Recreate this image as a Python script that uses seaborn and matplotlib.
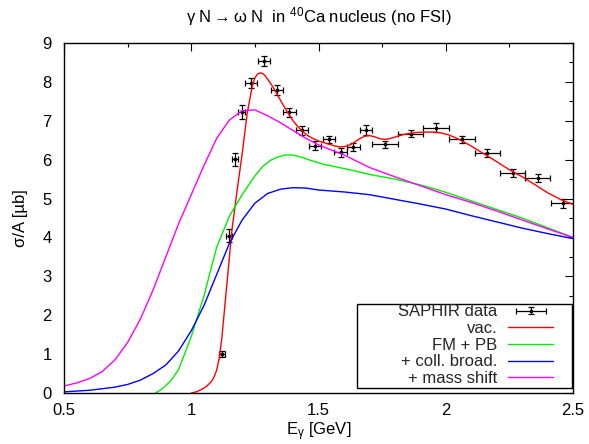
import numpy as np
import pandas as pd
import matplotlib
matplotlib.use("Agg")
import matplotlib.pyplot as plt
import seaborn as sns
from matplotlib.ticker import MultipleLocator, FormatStrFormatter
from matplotlib.legend_handler import HandlerErrorbar
from matplotlib.container import ErrorbarContainer
from matplotlib.patches import Rectangle

# ---------------- data ----------------
data_x = [1.122, 1.148, 1.173, 1.198, 1.235, 1.286, 1.337, 1.385, 1.435, 1.486, 1.541,
          1.587, 1.637, 1.687, 1.761, 1.862, 1.962, 2.063, 2.163, 2.263, 2.361, 2.462]
data_y = [1.00, 4.04, 6.01, 7.23, 7.98, 8.53, 7.79, 7.22, 6.75, 6.36, 6.52,
          6.19, 6.33, 6.76, 6.39, 6.67, 6.82, 6.52, 6.18, 5.66, 5.53, 4.88]
data_xerr = [0.0125, 0.0125, 0.0125, 0.0125, 0.025, 0.025, 0.025, 0.025, 0.025, 0.025, 0.025,
             0.025, 0.025, 0.025, 0.05, 0.05, 0.05, 0.05, 0.05, 0.05, 0.05, 0.05]
data_yerr = [0.08, 0.17, 0.17, 0.18, 0.13, 0.13, 0.12, 0.12, 0.11, 0.11, 0.10,
             0.11, 0.10, 0.12, 0.10, 0.10, 0.12, 0.10, 0.10, 0.10, 0.11, 0.12]

vac_x = [1.00, 1.02, 1.04, 1.06, 1.08, 1.09, 1.10, 1.11, 1.12, 1.14, 1.16, 1.18, 1.20, 1.22,
         1.24, 1.25, 1.26, 1.27, 1.28, 1.29, 1.30, 1.32, 1.34, 1.36, 1.38, 1.40, 1.42, 1.44,
         1.46, 1.48, 1.50, 1.52, 1.54, 1.56, 1.58, 1.60, 1.62, 1.64, 1.66, 1.68, 1.70, 1.72,
         1.74, 1.76, 1.78, 1.80, 1.83, 1.86, 1.89, 1.92, 1.95, 1.98, 2.01, 2.04, 2.07, 2.10,
         2.15, 2.20, 2.25, 2.30, 2.35, 2.40, 2.45, 2.50]
vac_y = [0.00, 0.03, 0.09, 0.17, 0.30, 0.42, 0.59, 0.90, 1.40, 2.80, 4.20, 5.20, 6.15, 7.20,
         7.90, 8.10, 8.20, 8.23, 8.22, 8.16, 8.07, 7.88, 7.65, 7.42, 7.20, 7.00, 6.84, 6.71,
         6.61, 6.54, 6.48, 6.44, 6.40, 6.36, 6.33, 6.33, 6.37, 6.44, 6.53, 6.60, 6.62, 6.59,
         6.54, 6.52, 6.54, 6.58, 6.64, 6.68, 6.70, 6.71, 6.71, 6.69, 6.64, 6.56, 6.46, 6.35,
         6.15, 5.95, 5.74, 5.56, 5.36, 5.15, 4.98, 4.85]

fmpb_x = [0.86, 0.88, 0.90, 0.92, 0.95, 1.00, 1.05, 1.10, 1.15, 1.20, 1.25, 1.28, 1.31, 1.34,
          1.37, 1.40, 1.43, 1.47, 1.52, 1.58, 1.65, 1.70, 1.80, 1.90, 1.95, 2.00, 2.10, 2.20,
          2.30, 2.40, 2.50]
fmpb_y = [0.00, 0.08, 0.19, 0.32, 0.60, 1.45, 2.50, 3.75, 4.55, 5.10, 5.58, 5.82, 5.98, 6.07,
          6.12, 6.12, 6.07, 5.98, 5.88, 5.80, 5.70, 5.62, 5.50, 5.35, 5.26, 5.16, 4.94, 4.72,
          4.50, 4.25, 4.00]

coll_x = [0.50, 0.60, 0.70, 0.75, 0.80, 0.85, 0.90, 0.95, 1.00, 1.05, 1.10, 1.15, 1.20, 1.25,
          1.30, 1.35, 1.40, 1.45, 1.50, 1.60, 1.70, 1.80, 1.90, 2.00, 2.10, 2.20, 2.30, 2.40,
          2.50]
coll_y = [0.03, 0.07, 0.15, 0.22, 0.33, 0.50, 0.72, 1.08, 1.60, 2.25, 3.05, 3.85, 4.45, 4.88,
          5.13, 5.24, 5.28, 5.27, 5.22, 5.17, 5.10, 4.98, 4.86, 4.73, 4.56, 4.40, 4.24, 4.10,
          3.97]

mass_x = [0.50, 0.55, 0.60, 0.65, 0.70, 0.75, 0.80, 0.85, 0.90, 0.95, 1.00, 1.05, 1.10, 1.15,
          1.20, 1.25, 1.30, 1.35, 1.40, 1.45, 1.50, 1.60, 1.70, 1.80, 1.90, 2.00, 2.10, 2.20,
          2.30, 2.40, 2.50]
mass_y = [0.18, 0.26, 0.37, 0.55, 0.85, 1.30, 1.90, 2.65, 3.50, 4.35, 5.10, 5.85, 6.55, 7.02,
          7.26, 7.28, 7.13, 6.95, 6.75, 6.55, 6.38, 6.12, 5.80, 5.56, 5.33, 5.10, 4.90, 4.68,
          4.45, 4.22, 4.00]

labels = ["SAPHIR data", "vac.", "FM + PB", "+ coll. broad.", "+ mass shift"]
colors = ["#ff0000", "#00ee00", "#0000ff", "#ff00ff"]

# ---------------- style ----------------
sns.set_theme(style="white")
plt.rcParams["font.family"] = ["Liberation Sans", "DejaVu Sans"]
plt.rcParams["mathtext.fontset"] = "custom"
plt.rcParams["mathtext.rm"] = "Liberation Sans"
plt.rcParams["mathtext.it"] = "Liberation Sans"
plt.rcParams["mathtext.bf"] = "Liberation Sans"
FS = 12
LFS = 12

fig = plt.figure(figsize=(5.89, 4.44), dpi=100)
fig.patch.set_facecolor("white")
ax = fig.add_axes([64 / 589, 51 / 444, 509 / 589, 350 / 444])

# data points
eb = ax.errorbar(data_x, data_y, xerr=data_xerr, yerr=data_yerr, fmt="o", ms=1.6,
                 color="black", ecolor="black", elinewidth=0.9, capsize=2.2,
                 capthick=0.9, label=labels[0], zorder=1.5)

curves = [(vac_x, vac_y), (fmpb_x, fmpb_y), (coll_x, coll_y), (mass_x, mass_y)]
for (cx, cy), lab, col in zip(curves, labels[1:], colors):
    df = pd.DataFrame({"E": cx, "s": cy})
    sns.lineplot(data=df, x="E", y="s", color=col, linewidth=1.0, label=lab,
                 ax=ax, estimator=None, sort=True, zorder=2)

ax.set_xlim(0.5, 2.5)
ax.set_ylim(0, 9)
ax.xaxis.set_major_locator(MultipleLocator(0.5))
ax.xaxis.set_minor_locator(MultipleLocator(0.25))
ax.xaxis.set_major_formatter(FormatStrFormatter("%g"))
ax.yaxis.set_major_locator(MultipleLocator(1))
ax.yaxis.set_minor_locator(MultipleLocator(0.5))
ax.yaxis.set_major_formatter(FormatStrFormatter("%g"))
ax.tick_params(which="both", direction="in", top=True, right=True, color="black",
               width=0.8, labelsize=FS, labelcolor="black")
ax.tick_params(which="major", length=6)
ax.tick_params(which="minor", length=3)
ax.tick_params(axis="x", which="major", pad=7)
ax.tick_params(axis="y", which="major", pad=9)
for s in ax.spines.values():
    s.set_color("black")
    s.set_linewidth(1.0)

ax.set_xlabel("E$_{γ}$ [GeV]", fontsize=FS, color="black", labelpad=2)
ax.set_ylabel("σ/A [µb]", fontsize=FS, color="black", labelpad=10)
ax.set_title(r"γ N$\rightarrow$ω N  in $^{40}$Ca nucleus (no FSI)", fontsize=FS,
             color="black", pad=15)

# legend frame (gnuplot-style box)
ax.add_patch(Rectangle(((357 - 64) / 509, (393 - 388) / 350), (572 - 357) / 509,
                       (388 - 304) / 350, transform=ax.transAxes, facecolor="white",
                       edgecolor="black", linewidth=1.0, zorder=4))

handles, labs = ax.get_legend_handles_labels()
order = [labs.index(l) for l in labels]
leg = ax.legend([handles[i] for i in order], [labs[i] for i in order],
                loc="lower right", bbox_to_anchor=((553 - 64) / 509, (393 - 386) / 350),
                fontsize=LFS, markerfirst=False, frameon=False,
                handlelength=2.7, handletextpad=0.65, labelspacing=0.1, borderpad=0.0,
                borderaxespad=0.0,
                handler_map={ErrorbarContainer: HandlerErrorbar(xerr_size=0.9, yerr_size=0.2)})
leg.set_zorder(5)

fig.savefig("out.png", dpi=100, facecolor="white")
